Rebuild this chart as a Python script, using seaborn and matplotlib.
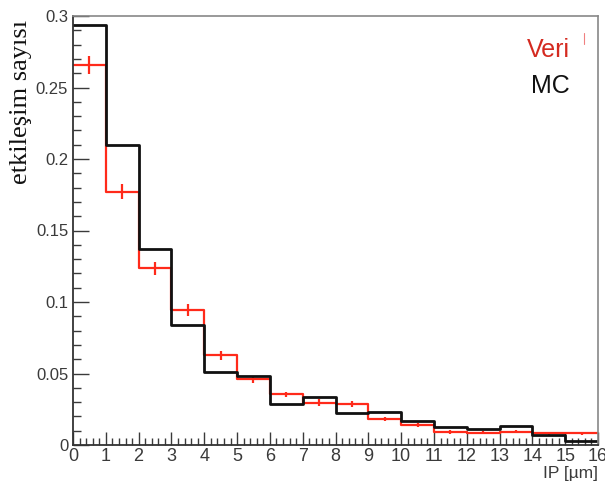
import numpy as np
import pandas as pd
import matplotlib
matplotlib.use("Agg")
import matplotlib.pyplot as plt
from matplotlib.ticker import MultipleLocator
import seaborn as sns

# ---- data ----
bin_edges = list(range(0, 17))
mc_values = [0.294, 0.2098, 0.137, 0.0837, 0.0508, 0.0485, 0.0287, 0.0336,
             0.0222, 0.0229, 0.0170, 0.0126, 0.0114, 0.0133, 0.0072, 0.0026]
veri_values = [0.2657, 0.177, 0.1236, 0.0944, 0.0627, 0.0459, 0.0354, 0.0296,
               0.0285, 0.0182, 0.0140, 0.0091, 0.0086, 0.0093, 0.0082, 0.0082]
veri_errors = [0.006, 0.0052, 0.0045, 0.004, 0.003, 0.0023, 0.0019, 0.0023,
               0.002, 0.0016, 0.0014, 0.0011, 0.0011, 0.0011, 0.001, 0.001]
x_ticks = list(range(0, 17))
y_ticks = [0, 0.05, 0.1, 0.15, 0.2, 0.25, 0.3]
y_tick_labels = ["0", "0.05", "0.1", "0.15", "0.2", "0.25", "0.3"]
legend_labels = ["Veri", "MC"]
x_label = "IP [\u00b5m]"
y_label = "etkile\u015fim say\u0131s\u0131"

centers = [(a + b) / 2 for a, b in zip(bin_edges[:-1], bin_edges[1:])]
df = pd.DataFrame({"center": centers, "mc": mc_values, "veri": veri_values,
                   "err": veri_errors})

sns.set_style("white")
plt.rcParams["font.family"] = ["Liberation Sans", "DejaVu Sans"]

fig = plt.figure(figsize=(6.05, 4.87), dpi=100)
ax = fig.add_axes([73 / 605, 42 / 487, 525 / 605, 429 / 487])

red = "#ff2a1a"
sns.histplot(data=df, x="center", weights="veri", bins=bin_edges,
             element="step", fill=False, color=red, linewidth=1.6, ax=ax)
ax.errorbar(df["center"], df["veri"], yerr=df["err"], fmt="none",
            ecolor=red, elinewidth=1.6, capsize=0)
sns.histplot(data=df, x="center", weights="mc", bins=bin_edges,
             element="step", fill=False, color="#111111", linewidth=2.0, ax=ax)

ax.set_xlim(0, 16)
ax.set_ylim(0, 0.3)
ax.set_xticks(x_ticks)
ax.set_xticklabels([str(t) for t in x_ticks])
ax.set_yticks(y_ticks)
ax.set_yticklabels(y_tick_labels)
ax.xaxis.set_minor_locator(MultipleLocator(0.2))
ax.yaxis.set_minor_locator(MultipleLocator(0.01))

tick_col = "#3a3a3a"
ax.tick_params(axis="x", which="major", direction="in", length=9.5, width=1.0,
               color=tick_col, labelsize=13, labelcolor=tick_col, pad=2.5,
               top=False, bottom=True)
ax.tick_params(axis="x", which="minor", direction="in", length=5, width=1.0,
               color=tick_col, top=False, bottom=True)
ax.tick_params(axis="y", which="major", direction="in", length=11.5, width=1.0,
               color=tick_col, labelsize=12, labelcolor=tick_col, pad=3.5,
               left=True, right=False)
ax.tick_params(axis="y", which="minor", direction="in", length=6, width=1.0,
               color=tick_col, left=True, right=False)

for side in ["left", "bottom"]:
    ax.spines[side].set_color("#333333")
    ax.spines[side].set_linewidth(1.3)
for side in ["top", "right"]:
    ax.spines[side].set_color("#888888")
    ax.spines[side].set_linewidth(1.2)

ax.set_xlabel(x_label, fontsize=12.5, color=tick_col, loc="right")
ax.xaxis.set_label_coords(1.0, -0.049)
ax.xaxis.label.set_verticalalignment("top")

ax.set_ylabel(y_label, fontsize=19, color="#111111", loc="top",
              family=["Liberation Serif", "DejaVu Serif"])
ax.yaxis.set_label_coords(-0.078, 0.992)

ax.text(0.947, 0.921, legend_labels[0], transform=ax.transAxes, ha="right",
        va="center", fontsize=18, color="#d42a20")
ax.text(0.947, 0.837, legend_labels[1], transform=ax.transAxes, ha="right",
        va="center", fontsize=18, color="#111111")
ax.plot([0.973, 0.973], [0.935, 0.960], transform=ax.transAxes,
        color="#f08080", linewidth=0.8)

ax.grid(False)
fig.savefig("out.png", dpi=100)
